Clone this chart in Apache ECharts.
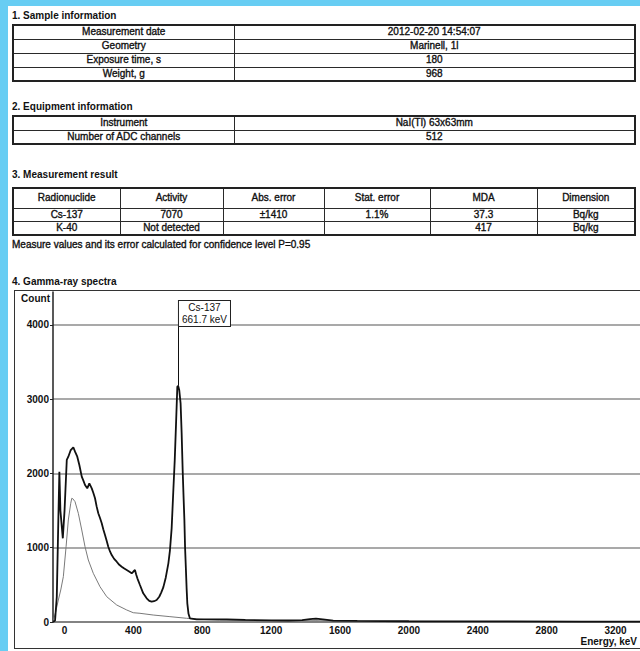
<!DOCTYPE html>
<html><head><meta charset="utf-8">
<script src="https://cdn.jsdelivr.net/npm/echarts@6/dist/echarts.min.js"></script>
<style>
html,body{margin:0;padding:0;width:640px;height:651px;overflow:hidden;background:#67cdf3;font-family:"Liberation Sans",Arial,sans-serif;color:#111}
#page{position:absolute;left:8px;top:6px;width:700px;height:700px;background:#fff}
.h{position:absolute;left:12px;font-size:10px;font-weight:bold;line-height:12px;white-space:nowrap}
.note{position:absolute;left:12px;font-size:10px;line-height:12px;white-space:nowrap;-webkit-text-stroke:0.35px #111}
table{position:absolute;left:12px;border-collapse:collapse;font-size:10px;table-layout:fixed;width:622px;border:2px solid #222}
td{border:1.5px solid #2a2a2a;text-align:center;padding:0;line-height:12px;white-space:nowrap;overflow:hidden;-webkit-text-stroke:0.35px #111}
#chart{position:absolute;left:14px;top:290px;width:660px;height:357px;border:1.5px solid #333;background:#fff}
</style></head>
<body>
<div id="page"></div>
<div class="h" id="h1" style="top:10px"></div>
<table id="t1" style="top:24px"></table>
<div class="h" id="h2" style="top:101px"></div>
<table id="t2" style="top:115px"></table>
<div class="h" id="h3" style="top:169px"></div>
<table id="t3" style="top:187px"></table>
<div class="note" id="note" style="top:239px"></div>
<div class="h" id="h4" style="top:276px"></div>
<div id="chart"></div>
<script>
// ---- report texts ----
const headings = ['1. Sample information','2. Equipment information','3. Measurement result','4. Gamma-ray spectra'];
const sampleLabels = ['Measurement date','Geometry','Exposure time, s','Weight, g'];
const sampleValues = ['2012-02-20 14:54:07','Marinell, 1l','180','968'];
const equipLabels = ['Instrument','Number of ADC channels'];
const equipValues = ['NaI(Tl) 63x63mm','512'];
const resultHeader = ['Radionuclide','Activity','Abs. error','Stat. error','MDA','Dimension'];
const resultCs = ['Cs-137','7070','±1410','1.1%','37.3','Bq/kg'];
const resultK = ['K-40','Not detected','','','417','Bq/kg'];
const noteText = 'Measure values and its error calculated for confidence level P=0.95';

// ---- spectrum data (energy keV, counts) ----
const energyTotal = [-67,-55,-45,-36,-30,-24,-10,0,13,22,36,51,61,74,86,100,110,119,132,144,158,167,177,186,196,206,216,225,235,245,254,264,274,288,303,318,332,347,361,375,390,400,409,416,423,438,457,477,492,506,520,535,550,562,574,588,603,612,622,632,640,648,655,660,666,674,680,686,691,696,700,705,709,713,720,728,767,850,943,1050,1200,1300,1380,1425,1460,1500,1560,1700,2000,2500,3000,3400];
const countTotal  = [0,20,340,1374,2024,1500,1127,1500,2182,2226,2316,2353,2294,2226,2114,1957,1900,1845,1800,1868,1800,1740,1666,1560,1464,1400,1329,1250,1172,1090,1014,950,902,850,812,770,745,720,700,680,656,680,700,640,588,498,386,319,285,274,280,296,340,400,470,600,790,960,1260,1780,2182,2700,3169,3180,3125,2945,2550,2047,1700,1374,1000,700,450,252,110,50,36,36,36,28,23,20,25,40,45,35,18,14,10,8,6,5];
const energyBg = [-67,-50,-36,-22,-7,9,22,36,42,48,61,80,100,119,138,167,206,245,303,361,399,438,515,612,709,786,900,1100,1300,1460,1600,2000,2600,3400];
const countBg  = [0,150,296,431,610,1014,1374,1599,1666,1660,1620,1464,1239,1014,835,656,475,341,229,162,125,117,94,72,50,36,25,18,14,18,10,8,6,4];

// ---- axes ----
const xTickLabels = [0,400,800,1200,1600,2000,2400,2800,3200];
const yTickLabels = [0,1000,2000,3000,4000];
const xMin = -67, xMax = 3400, yMin = 0, yMax = 4444;

// ---- peak annotation ----
const peakName = 'Cs-137', peakEnergy = 661.7, peakTopCount = 3180, annotationCount = 4323;

// build tables
function fill(id, rows, rowH, firstH){
  const t = document.getElementById(id);
  rows.forEach((r,ri)=>{
    const tr = document.createElement('tr');
    tr.style.height = (firstH && ri===0) ? firstH : rowH;
    r.forEach(c=>{const td=document.createElement('td');td.textContent=c;tr.appendChild(td);});
    t.appendChild(tr);
  });
}
['h1','h2','h3','h4'].forEach((id,i)=>document.getElementById(id).textContent=headings[i]);
document.getElementById('note').textContent = noteText;
fill('t1', sampleLabels.map((l,i)=>[l,sampleValues[i]]), '14px');
fill('t2', equipLabels.map((l,i)=>[l,equipValues[i]]), '14px');
fill('t3', [resultHeader,resultCs,resultK], '12.5px', '20px');
function cols(id, w){const t=document.getElementById(id);const cg=document.createElement('colgroup');w.forEach(x=>{const c=document.createElement('col');c.style.width=x+'px';cg.appendChild(c);});t.insertBefore(cg,t.firstChild);}
cols('t1',[221,401]); cols('t2',[221,401]); cols('t3',[107,103,101,106,107,98]);

const chart = echarts.init(document.getElementById('chart'), null, {renderer:'svg'});
const font = 'Liberation Sans';
const plain = v => String(v);
chart.setOption({
  animation:false,
  textStyle:{fontFamily:font},
  grid:{left:38, top:1, right:25, bottom:26},
  xAxis:{type:'value', min:xMin, max:xMax,
    axisLine:{onZero:false, lineStyle:{color:'#777', width:1.5}},
    axisTick:{show:false},
    axisLabel:{customValues:xTickLabels, formatter:plain, margin:3, fontSize:10, fontWeight:'bold', color:'#111', fontFamily:font},
    splitLine:{show:false},
    name:'Energy, keV', nameLocation:'end', nameGap:-13,
    nameTextStyle:{align:'right', verticalAlign:'top', padding:[14,0,0,0], fontSize:10, fontWeight:'bold', color:'#111', fontFamily:font}},
  yAxis:{type:'value', min:yMin, max:yMax, interval:1000,
    axisLine:{show:true, onZero:false, lineStyle:{color:'#222', width:1.5}},
    axisTick:{show:true, length:3, customValues:yTickLabels, lineStyle:{color:'#222'}},
    axisLabel:{customValues:yTickLabels, formatter:plain, margin:4, fontSize:10, fontWeight:'bold', color:'#111', fontFamily:font},
    splitLine:{show:true, lineStyle:{color:'#8c8c8c', width:1.5}},
    name:'Count', nameLocation:'end', nameGap:-6,
    nameTextStyle:{align:'right', verticalAlign:'middle', padding:[0,3,0,0], fontSize:10, fontWeight:'bold', color:'#111', fontFamily:font}},
  series:[
    {type:'line', data:energyBg.map((e,i)=>[e,countBg[i]]), symbol:'none', silent:true,
     lineStyle:{color:'#7a7a7a', width:1}, z:2},
    {type:'line', data:energyTotal.map((e,i)=>[e,countTotal[i]]), symbol:'none', silent:true,
     lineStyle:{color:'#111', width:1.8}, z:3,
     markLine:{silent:true, symbol:['none','none'], lineStyle:{color:'#111', width:1, type:'solid'}, label:{show:false},
       data:[[{coord:[peakEnergy, peakTopCount]},{coord:[peakEnergy, annotationCount]}]]},
     markPoint:{silent:true, symbol:'rect', symbolSize:0,
       label:{show:true, position:[26,0], align:'center', verticalAlign:'top',
         formatter: peakName + '\n' + peakEnergy + ' keV', fontSize:10, lineHeight:12, color:'#111', fontFamily:font,
         backgroundColor:'#fff', borderColor:'#222', borderWidth:1, padding:[1,3,0,3]},
       data:[{coord:[peakEnergy, annotationCount]}]}}
  ]
});
</script>
</body></html>
